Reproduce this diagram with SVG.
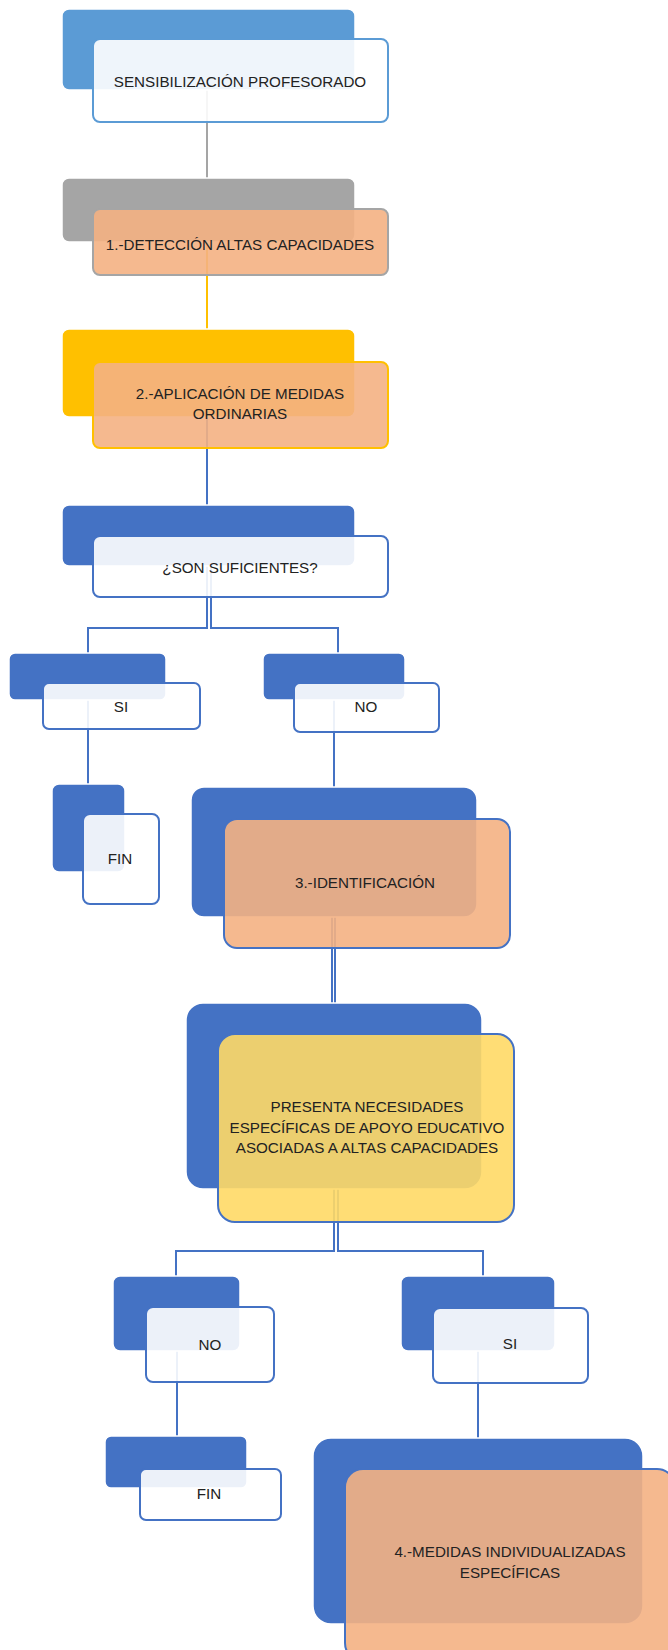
<svg xmlns="http://www.w3.org/2000/svg" width="668" height="1650" viewBox="0 0 668 1650">
<style>
.bk{stroke:#fff;stroke-width:1.5}
.fr{stroke-width:2}
.w{fill:#fff;fill-opacity:0.9}
.o{fill:#F4B183;fill-opacity:0.9}
.y{fill:#FFD966;fill-opacity:0.9}
.sb{stroke:#4472C4}
.c{fill:none;stroke-width:2}
text{font-family:"Liberation Sans",Arial,sans-serif;font-size:15.2px;fill:#222;text-anchor:middle}
</style>
<rect width="668" height="1650" fill="#fff"/>
<g id="connectors">
<path class="c" stroke="#A5A5A5" d="M207,90 V178"/>
<path class="c" stroke="#FFC000" d="M207,242 V329"/>
<path class="c" stroke="#4472C4" d="M207,417 V505"/>
<path class="c" stroke="#4472C4" d="M207,566 V628 H88 V653"/>
<path class="c" stroke="#4472C4" d="M211,566 V628 H338 V653"/>
<path class="c" stroke="#4472C4" d="M88,700 V784"/>
<path class="c" stroke="#4472C4" d="M334,700 V787"/>
<path class="c" stroke="#4472C4" d="M332,917 V1003"/>
<path class="c" stroke="#4472C4" d="M335,917 V1003"/>
<path class="c" stroke="#4472C4" d="M334,1189 V1251 H176 V1276"/>
<path class="c" stroke="#4472C4" d="M338,1189 V1251 H483 V1276"/>
<path class="c" stroke="#4472C4" d="M177,1351 V1436"/>
<path class="c" stroke="#4472C4" d="M478,1351 V1438"/>
</g>
<g id="n-sensibilizacion">
<rect class="bk" x="62" y="9" width="293" height="81" rx="7" fill="#5B9BD5"/>
<rect class="fr w" x="93" y="39" width="295" height="83" rx="7" stroke="#5B9BD5"/>
<text x="240" y="87">SENSIBILIZACIÓN PROFESORADO</text>
</g>
<g id="n-deteccion">
<rect class="bk" x="62" y="178" width="293" height="64" rx="7" fill="#A5A5A5"/>
<rect class="fr o" x="93" y="209" width="295" height="66" rx="7" stroke="#A5A5A5"/>
<text x="240" y="250">1.-DETECCIÓN ALTAS CAPACIDADES</text>
</g>
<g id="n-aplicacion">
<rect class="bk" x="62" y="329" width="293" height="88" rx="7" fill="#FFC000"/>
<rect class="fr o" x="93" y="362" width="295" height="86" rx="7" stroke="#FFC000"/>
<text x="240" y="399">2.-APLICACIÓN DE MEDIDAS</text>
<text x="240" y="419">ORDINARIAS</text>
</g>
<g id="n-suficientes">
<rect class="bk" x="62" y="505" width="293" height="61" rx="7" fill="#4472C4"/>
<rect class="fr w sb" x="93" y="536" width="295" height="61" rx="7"/>
<text x="240" y="573">¿SON SUFICIENTES?</text>
</g>
<g id="n-si1">
<rect class="bk" x="9" y="653" width="157" height="47" rx="6" fill="#4472C4"/>
<rect class="fr w sb" x="43" y="683" width="157" height="46" rx="6"/>
<text x="121" y="712">SI</text>
</g>
<g id="n-no1">
<rect class="bk" x="263" y="653" width="142" height="47" rx="6" fill="#4472C4"/>
<rect class="fr w sb" x="294" y="683" width="145" height="49" rx="6"/>
<text x="366" y="712">NO</text>
</g>
<g id="n-fin1">
<rect class="bk" x="52" y="784" width="73" height="88" rx="7" fill="#4472C4"/>
<rect class="fr w sb" x="83" y="814" width="76" height="90" rx="7"/>
<text x="120" y="864">FIN</text>
</g>
<g id="n-identificacion">
<rect class="bk" x="191" y="787" width="286" height="130" rx="13" fill="#4472C4"/>
<rect class="fr o sb" x="224" y="819" width="286" height="129" rx="13"/>
<text x="365" y="888">3.-IDENTIFICACIÓN</text>
</g>
<g id="n-presenta">
<rect class="bk" x="186" y="1003" width="296" height="186" rx="17" fill="#4472C4"/>
<rect class="fr y sb" x="218" y="1034" width="296" height="188" rx="17"/>
<text x="367" y="1112">PRESENTA NECESIDADES</text>
<text x="367" y="1133">ESPECÍFICAS DE APOYO EDUCATIVO</text>
<text x="367" y="1153">ASOCIADAS A ALTAS CAPACIDADES</text>
</g>
<g id="n-no2">
<rect class="bk" x="113" y="1276" width="127" height="75" rx="7" fill="#4472C4"/>
<rect class="fr w sb" x="146" y="1307" width="128" height="75" rx="7"/>
<text x="210" y="1350">NO</text>
</g>
<g id="n-si2">
<rect class="bk" x="401" y="1276" width="154" height="75" rx="7" fill="#4472C4"/>
<rect class="fr w sb" x="433" y="1308" width="155" height="75" rx="7"/>
<text x="510" y="1349">SI</text>
</g>
<g id="n-fin2">
<rect class="bk" x="105" y="1436" width="142" height="52" rx="6" fill="#4472C4"/>
<rect class="fr w sb" x="140" y="1469" width="141" height="51" rx="6"/>
<text x="209" y="1499">FIN</text>
</g>
<g id="n-medidas">
<rect class="bk" x="313" y="1438" width="330" height="186" rx="18" fill="#4472C4"/>
<rect class="fr o sb" x="345" y="1469" width="330" height="192" rx="18"/>
<text x="510" y="1557">4.-MEDIDAS INDIVIDUALIZADAS</text>
<text x="510" y="1578">ESPECÍFICAS</text>
</g>
</svg>
